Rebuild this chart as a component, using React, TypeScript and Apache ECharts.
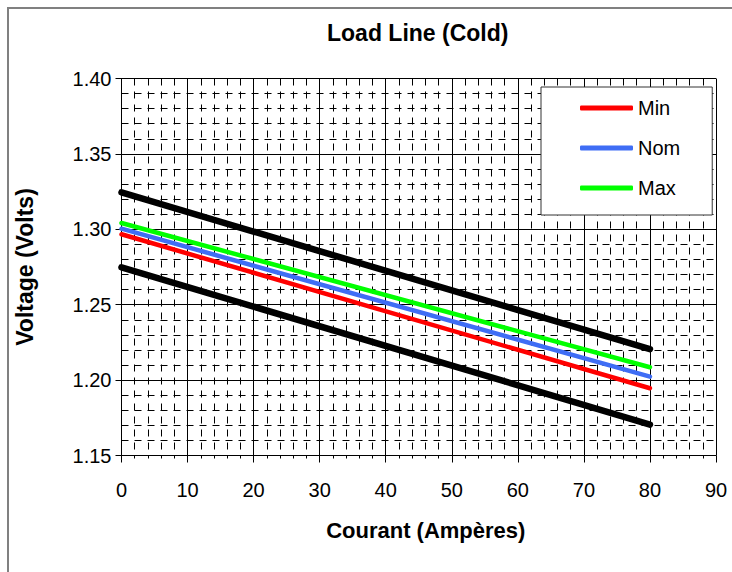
import React, { useEffect, useRef } from "react";
import * as echarts from "echarts";

const currents = [0, 80];
const upperLimit = [1.3245, 1.2205];
const lowerLimit = [1.2748, 1.1705];
const minVolts = [1.2967, 1.1946];
const nomVolts = [1.3004, 1.2023];
const maxVolts = [1.3042, 1.2085];
const legendNames = ["Min", "Nom", "Max"];

const FONT = "'Liberation Sans', Arial, sans-serif";

const toPoints = (ys: number[]) => currents.map((x, i) => [x, ys[i]]);

export default function App() {
  const ref = useRef<HTMLDivElement>(null);
  useEffect(() => {
    if (!ref.current) return;
    const chart = echarts.init(ref.current, undefined, { renderer: "svg" });
    const lineSeries = (name: string, data: number[], color: string, width: number, z: number) => ({
      name,
      type: "line",
      data: toPoints(data),
      symbol: "none",
      z,
      lineStyle: { color, width, cap: "round" },
      itemStyle: { color },
      emphasis: { disabled: true },
    });
    chart.setOption({
      animation: false,
      backgroundColor: "#fff",
      textStyle: { fontFamily: FONT },
      title: {
        text: "Load Line (Cold)",
        left: 322,
        top: 16,
        textStyle: { fontSize: 23, fontWeight: "bold", color: "#000", fontFamily: FONT },
      },
      graphic: [
        {
          type: "rect",
          shape: { x: 8, y: 8, width: 800, height: 700 },
          style: { fill: "none", stroke: "#808080", lineWidth: 2 },
          silent: true,
          z: -1,
        },
      ],
      legend: {
        data: legendNames,
        orient: "vertical",
        left: 541,
        top: 87,
        padding: [10, 32, 16, 39],
        itemWidth: 53,
        itemHeight: 5,
        itemGap: 18,
        icon: "roundRect",
        backgroundColor: "#fff",
        borderColor: "#333",
        borderWidth: 1,
        textStyle: { fontSize: 20, color: "#000", fontFamily: FONT, lineHeight: 22 },
      },
      grid: { left: 121.5, top: 78.5, right: 16, bottom: 116.5, containLabel: false },
      xAxis: {
        type: "value",
        min: 0,
        max: 90,
        interval: 10,
        name: "Courant (Ampères)",
        nameLocation: "middle",
        nameGap: 64,
        nameTextStyle: { fontSize: 22, fontWeight: "bold", color: "#000", fontFamily: FONT, padding: [0, 0, 0, 14] },
        axisLine: { show: true, onZero: false, lineStyle: { color: "#000", width: 1 } },
        axisTick: { show: true, length: 7, lineStyle: { color: "#000" } },
        minorTick: { show: true, splitNumber: 5, length: 3, lineStyle: { color: "#000" } },
        axisLabel: { fontSize: 20, color: "#000", margin: 24, fontFamily: FONT },
        splitLine: { show: true, lineStyle: { color: "#000", width: 1 } },
        minorSplitLine: { show: true, lineStyle: { color: "#000", width: 1, type: [7, 6] } },
      },
      yAxis: {
        type: "value",
        min: 1.15,
        max: 1.4,
        interval: 0.05,
        name: "Voltage (Volts)",
        nameLocation: "middle",
        nameGap: 85,
        nameTextStyle: { fontSize: 23, fontWeight: "bold", color: "#000", fontFamily: FONT },
        axisLine: { show: true, onZero: false, lineStyle: { color: "#000", width: 1 } },
        axisTick: { show: true, length: 6, lineStyle: { color: "#000" } },
        minorTick: { show: false },
        axisLabel: {
          fontSize: 20,
          color: "#000",
          margin: 10,
          fontFamily: FONT,
          formatter: (v: number) => v.toFixed(2),
        },
        splitLine: { show: true, lineStyle: { color: "#000", width: 1 } },
        minorSplitLine: { show: true, lineStyle: { color: "#000", width: 1, type: [7, 6] } },
      },
      series: [
        lineSeries("Upper", upperLimit, "#000000", 6.5, 3),
        lineSeries("Lower", lowerLimit, "#000000", 6.5, 3),
        lineSeries("Min", minVolts, "#ff0000", 4.5, 4),
        lineSeries("Nom", nomVolts, "#3f6df5", 4.5, 4),
        lineSeries("Max", maxVolts, "#00ff00", 4.5, 4),
      ],
    });
    return () => chart.dispose();
  }, []);
  return (
    <div
      ref={ref}
      style={{ position: "absolute", left: 0, top: 0, width: 732, height: 572 }}
    />
  );
}
